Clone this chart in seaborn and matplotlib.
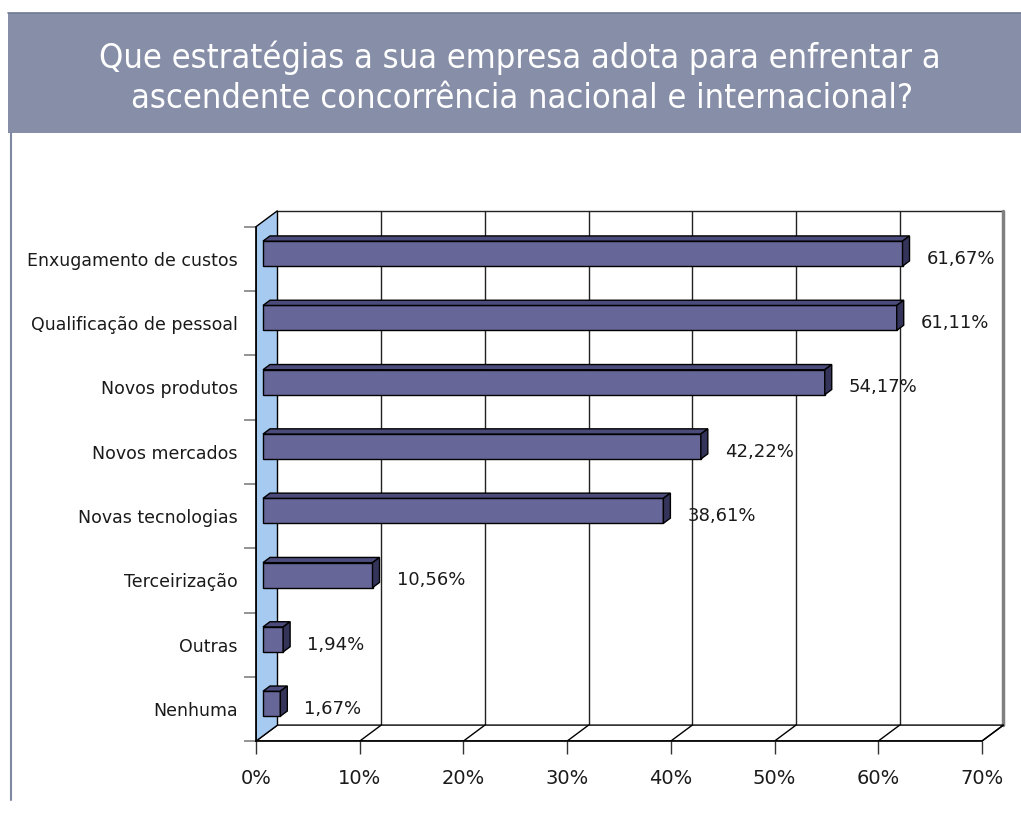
import numpy as np
import pandas as pd
import matplotlib
matplotlib.use("Agg")
import matplotlib.pyplot as plt
from matplotlib.patches import Polygon, Rectangle
from matplotlib.lines import Line2D
from matplotlib import font_manager
import seaborn as sns

categories = ["Enxugamento de custos", "Qualificação de pessoal", "Novos produtos",
              "Novos mercados", "Novas tecnologias", "Terceirização", "Outras", "Nenhuma"]
values = [61.67, 61.11, 54.17, 42.22, 38.61, 10.56, 1.94, 1.67]
value_labels = ["61,67%", "61,11%", "54,17%", "42,22%", "38,61%", "10,56%", "1,94%", "1,67%"]
x_ticks = [0, 10, 20, 30, 40, 50, 60, 70]
x_tick_labels = ["0%", "10%", "20%", "30%", "40%", "50%", "60%", "70%"]
title_lines = ["Que estratégias a sua empresa adota para enfrentar a",
               "ascendente concorrência nacional e internacional?"]

sns.set_theme(style="white")
plt.rcParams['font.family'] = ['DejaVu Sans']

# pick a condensed face for the title if one is installed
def pick_condensed():
    fl = font_manager.fontManager.ttflist
    def ok_weight(f):
        return f.weight in (400, "normal", "regular", "book", 300, "light") and f.style == "normal"
    prefs = [
        lambda f: f.name == "Liberation Sans Narrow",
        lambda f: f.name == "DejaVu Sans" and "condensed" in str(f.stretch),
        lambda f: "Narrow" in f.name,
        lambda f: "Condensed" in f.name,
        lambda f: "condensed" in str(f.stretch),
    ]
    for pr in prefs:
        c = [f for f in fl if pr(f) and ok_weight(f)]
        if c:
            c.sort(key=lambda f: 0 if f.weight in (400, "normal", "regular", "book") else 1)
            return font_manager.FontProperties(fname=c[0].fname)
    return font_manager.FontProperties(family="DejaVu Sans")

title_fp = pick_condensed()

W, H = 1021, 814
fig = plt.figure(figsize=(W / 100, H / 100), dpi=100)
fig.patch.set_facecolor("white")

px_per_pct = 10.37
px_per_cat = 64.3
x0_pix = 256.0
ycat_top = 226.7
ax_left_pix, ax_right_pix = x0_pix, 1012.0
ax_top_pix, ax_bot_pix = 205.0, ycat_top + 8 * px_per_cat
xmax = (ax_right_pix - x0_pix) / px_per_pct
ytop = -0.5 + (ax_top_pix - ycat_top) / px_per_cat

ax = fig.add_axes([ax_left_pix / W, 1 - ax_bot_pix / H,
                   (ax_right_pix - ax_left_pix) / W, (ax_bot_pix - ax_top_pix) / H])
ax.set_facecolor("none")

DX = 21.5 / px_per_pct
DY = -16.0 / px_per_cat
xend = x_ticks[-1]
ylo, yhi = -0.5, len(categories) - 0.5

# back wall
ax.add_patch(Polygon([(DX, ylo + DY), (xend + DX, ylo + DY), (xend + DX, yhi + DY), (DX, yhi + DY)],
                     closed=True, facecolor="white", edgecolor="none", zorder=0.5))
for t in x_ticks[1:-1]:
    ax.add_line(Line2D([t + DX, t + DX], [ylo + DY, yhi + DY], color="#222222", lw=1.0, zorder=0.6))
ax.add_line(Line2D([DX, xend + DX], [ylo + DY, ylo + DY], color="#222222", lw=1.0, zorder=0.6))
ax.add_line(Line2D([xend + DX, xend + DX], [ylo + DY, yhi + DY], color="#808080", lw=2.5, zorder=0.6))
# floor
ax.add_patch(Polygon([(0, yhi), (xend, yhi), (xend + DX, yhi + DY), (DX, yhi + DY)],
                     closed=True, facecolor="white", edgecolor="black", lw=1.0, zorder=0.7))
for t in x_ticks[1:]:
    ax.add_line(Line2D([t, t + DX], [yhi, yhi + DY], color="black", lw=1.0, zorder=0.8))
# left wall
ax.add_patch(Polygon([(0, ylo), (DX, ylo + DY), (DX, yhi + DY), (0, yhi)],
                     closed=True, facecolor="#A6CAF0", edgecolor="black", lw=1.0, zorder=0.9))

df = pd.DataFrame({"categoria": categories, "valor": values})
bar_w = 25 / px_per_cat
sns.barplot(data=df, x="valor", y="categoria", orient="h", width=bar_w,
            color="#666699", saturation=1, edgecolor="black", linewidth=1.0, ax=ax, zorder=3)

f_front = 7.0 / 21.5
ox, oy = f_front * DX, f_front * DY
bdx, bdy = 7.0 / 21.5 * DX, 7.0 / 21.5 * DY
for p in list(ax.patches):
    if not isinstance(p, Rectangle) or p.get_zorder() != 3:
        continue
    x, y, w, h = p.get_x(), p.get_y(), p.get_width(), p.get_height()
    x += ox
    y += oy
    p.set_x(x)
    p.set_y(y)
    ax.add_patch(Polygon([(x, y), (x + w, y), (x + w + bdx, y + bdy), (x + bdx, y + bdy)],
                         closed=True, facecolor="#4c4c7c", edgecolor="black", lw=1.0, zorder=3.1))
    ax.add_patch(Polygon([(x + w, y), (x + w + bdx, y + bdy), (x + w + bdx, y + h + bdy), (x + w, y + h)],
                         closed=True, facecolor="#34345a", edgecolor="black", lw=1.0, zorder=3.1))

for i, (v, lab) in enumerate(zip(values, value_labels)):
    ax.text(v + ox + bdx + 17 / px_per_pct, i, lab, ha="left", va="center",
            fontsize=13, color="#1a1a1a", zorder=5)

ax.set_xlim(0, xmax)
ax.set_ylim(yhi, ytop)
ax.set_xlabel("")
ax.set_ylabel("")
ax.set_xticks(x_ticks)
ax.set_xticklabels(x_tick_labels, fontsize=14, color="#1a1a1a")
ax.set_yticks(range(len(categories)))
ax.set_yticklabels(categories, fontsize=12.5, color="#1a1a1a")
ax.set_yticks(np.arange(ylo, yhi + 0.01, 1), minor=True)
ax.tick_params(axis="y", which="major", length=0, pad=13)
ax.tick_params(axis="y", which="minor", length=9, width=1.2, color="#808080", direction="out", left=True)
ax.tick_params(axis="x", which="major", length=9, width=1.0, color="#333333", direction="out",
               pad=11, bottom=True)
for s in ["top", "right"]:
    ax.spines[s].set_visible(False)
ax.spines["left"].set_bounds(ylo, yhi)
ax.spines["left"].set_color("black")
ax.spines["bottom"].set_bounds(0, xend)
ax.spines["bottom"].set_color("black")
ax.grid(False)

# banner and frame line
fig.add_artist(Rectangle((8 / W, 1 - 133 / H), (W - 8) / W, 120 / H, transform=fig.transFigure,
                         facecolor="#878FA8", edgecolor="none", zorder=0))
fig.add_artist(Line2D([8 / W, 1], [1 - 13 / H, 1 - 13 / H], transform=fig.transFigure,
                      color="#6E7794", lw=1.2))
fig.add_artist(Line2D([10.5 / W, 10.5 / W], [1 - 133 / H, 1 - 800 / H], transform=fig.transFigure,
                      color="#7F88A3", lw=1.5))

t1 = fig.text(520 / W, 1 - 58 / H, title_lines[0], ha="center", va="center", color="white",
              fontproperties=title_fp, fontsize=24)
t2 = fig.text(522 / W, 1 - 99 / H, title_lines[1], ha="center", va="center", color="white",
              fontproperties=title_fp, fontsize=24)
# fit the title width to the reference banner text width
fig.canvas.draw()
r = fig.canvas.get_renderer()
w1 = t1.get_window_extent(r).width
fs = 24 * 844.0 / w1
fs = min(fs, 30)
t1.set_fontsize(fs)
t2.set_fontsize(fs)

fig.savefig("out.png", dpi=100)
